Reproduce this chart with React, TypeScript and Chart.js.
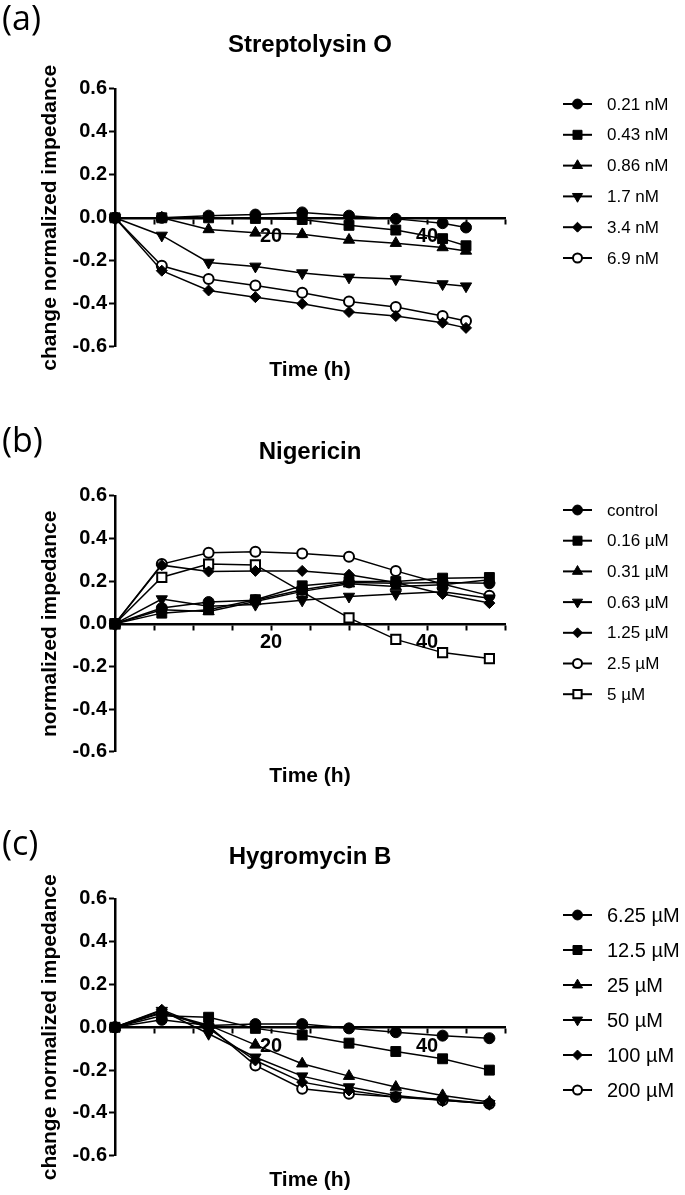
import React, { useEffect, useRef } from 'react';
import { Chart, registerables } from 'chart.js';

Chart.register(...registerables);
Chart.defaults.color = '#000';
Chart.defaults.font.family = "'Liberation Sans', Arial, sans-serif";

// ---------- data ----------
const TIMES_A = [0, 6, 12, 18, 24, 30, 36, 42, 45];
const TIMES_BC = [0, 6, 12, 18, 24, 30, 36, 42, 48];

const SLO_LABELS = ['0.21 nM', '0.43 nM', '0.86 nM', '1.7 nM', '3.4 nM', '6.9 nM'];
const SLO_021 = [0, 0.0, 0.01, 0.015, 0.025, 0.01, -0.005, -0.025, -0.045];
const SLO_043 = [0, 0.0, 0.0, -0.003, -0.008, -0.035, -0.057, -0.097, -0.13];
const SLO_086 = [0, 0.0, -0.054, -0.07, -0.077, -0.103, -0.118, -0.138, -0.154];
const SLO_17 = [0, -0.082, -0.208, -0.226, -0.257, -0.277, -0.285, -0.308, -0.318];
const SLO_34 = [0, -0.246, -0.338, -0.369, -0.4, -0.438, -0.457, -0.488, -0.512];
const SLO_69 = [0, -0.223, -0.285, -0.315, -0.349, -0.389, -0.415, -0.457, -0.48];

const NIG_LABELS = ['control', '0.16 µM', '0.31 µM', '0.63 µM', '1.25 µM', '2.5 µM', '5 µM'];
const NIG_CTRL = [0, 0.074, 0.102, 0.11, 0.16, 0.194, 0.19, 0.194, 0.19];
const NIG_016 = [0, 0.05, 0.066, 0.113, 0.178, 0.198, 0.198, 0.214, 0.217];
const NIG_031 = [0, 0.066, 0.058, 0.105, 0.152, 0.188, 0.175, 0.183, 0.206];
const NIG_063 = [0, 0.116, 0.082, 0.09, 0.11, 0.128, 0.14, 0.15, 0.12];
const NIG_125 = [0, 0.275, 0.245, 0.248, 0.248, 0.23, 0.194, 0.14, 0.097];
const NIG_25 = [0, 0.28, 0.333, 0.338, 0.33, 0.314, 0.248, 0.187, 0.132];
const NIG_5 = [0, 0.218, 0.28, 0.276, 0.15, 0.028, -0.073, -0.135, -0.163];

const HYG_LABELS = ['6.25 µM', '12.5 µM', '25 µM', '50 µM', '100 µM', '200 µM'];
const HYG_625 = [0, 0.035, 0.008, 0.015, 0.015, -0.005, -0.023, -0.039, -0.051];
const HYG_125 = [0, 0.054, 0.047, -0.005, -0.036, -0.074, -0.113, -0.147, -0.2];
const HYG_25 = [0, 0.07, 0.01, -0.082, -0.17, -0.228, -0.279, -0.318, -0.349];
const HYG_50 = [0, 0.078, -0.03, -0.14, -0.228, -0.279, -0.318, -0.341, -0.357];
const HYG_100 = [0, 0.082, -0.005, -0.155, -0.256, -0.295, -0.326, -0.336, -0.357];
const HYG_200 = [0, 0.067, 0.005, -0.178, -0.287, -0.31, -0.326, -0.341, -0.357];

const X_LABELS = [20, 40];
const Y_TICKS = [-0.6, -0.4, -0.2, 0, 0.2, 0.4, 0.6];

// ---------- styles ----------
const FONT = "'Liberation Sans', Arial, sans-serif";
const MARKERS = ['fcircle', 'fsquare', 'ftri', 'ftriDown', 'fdiamond', 'ocircle', 'osquare'];

function markerStyle(key: string) {
  switch (key) {
    case 'fcircle': return { pointStyle: 'circle', pointRadius: 5.5, pointBackgroundColor: '#000', pointBorderWidth: 1, pointRotation: 0 };
    case 'fsquare': return { pointStyle: 'rect', pointRadius: 7, pointBackgroundColor: '#000', pointBorderWidth: 1, pointRotation: 0 };
    case 'ftri': return { pointStyle: 'triangle', pointRadius: 6.5, pointBackgroundColor: '#000', pointBorderWidth: 1, pointRotation: 0 };
    case 'ftriDown': return { pointStyle: 'triangle', pointRadius: 6.5, pointBackgroundColor: '#000', pointBorderWidth: 1, pointRotation: 180 };
    case 'fdiamond': return { pointStyle: 'rectRot', pointRadius: 5.5, pointBackgroundColor: '#000', pointBorderWidth: 1, pointRotation: 0 };
    case 'ocircle': return { pointStyle: 'circle', pointRadius: 5, pointBackgroundColor: '#fff', pointBorderWidth: 2, pointRotation: 0 };
    default: return { pointStyle: 'rect', pointRadius: 6.5, pointBackgroundColor: '#fff', pointBorderWidth: 2, pointRotation: 0 };
  }
}

function drawMarker(ctx: CanvasRenderingContext2D, key: string, x: number, y: number, s: number) {
  ctx.save();
  ctx.strokeStyle = '#000';
  ctx.fillStyle = key.startsWith('o') ? '#fff' : '#000';
  ctx.lineWidth = key.startsWith('o') ? 2 : 1;
  ctx.beginPath();
  if (key === 'fcircle' || key === 'ocircle') {
    ctx.arc(x, y, (key === 'fcircle' ? 5.5 : 5) * s, 0, Math.PI * 2);
  } else if (key === 'fsquare' || key === 'osquare') {
    const h = (key === 'fsquare' ? 5 : 4.6) * s;
    ctx.rect(x - h, y - h, 2 * h, 2 * h);
  } else if (key === 'ftri' || key === 'ftriDown') {
    const r = 6.5 * s;
    const d = key === 'ftri' ? 1 : -1;
    ctx.moveTo(x, y - d * r);
    ctx.lineTo(x + r * Math.sin(Math.PI * 2 / 3), y + d * r * 0.5);
    ctx.lineTo(x - r * Math.sin(Math.PI * 2 / 3), y + d * r * 0.5);
    ctx.closePath();
  } else {
    const r = 5.5 * s;
    ctx.moveTo(x, y - r);
    ctx.lineTo(x + r, y);
    ctx.lineTo(x, y + r);
    ctx.lineTo(x - r, y);
    ctx.closePath();
  }
  ctx.fill();
  ctx.stroke();
  ctx.restore();
}

type PanelCfg = {
  top: number;
  height: number;
  letter: string;
  letterY: number;
  title: string;
  yTitle: string;
  titlePad: { top: number; bottom: number };
  subPad: { top: number; bottom: number };
  times: number[];
  labels: string[];
  series: number[][];
  legendY0: number;
  legendStep: number;
  legendFont: number;
};

const PANELS: PanelCfg[] = [
  {
    top: 0, height: 395, letter: '(a)', letterY: 20, title: 'Streptolysin O', yTitle: 'change normalized impedance',
    titlePad: { top: 31, bottom: 29 }, subPad: { top: 11, bottom: 12 }, times: TIMES_A, labels: SLO_LABELS,
    series: [SLO_021, SLO_043, SLO_086, SLO_17, SLO_34, SLO_69], legendY0: 104, legendStep: 30.8, legendFont: 17,
  },
  {
    top: 395, height: 395, letter: '(b)', letterY: 47, title: 'Nigericin', yTitle: 'normalized impedance',
    titlePad: { top: 43, bottom: 29 }, subPad: { top: 12, bottom: 1 }, times: TIMES_BC, labels: NIG_LABELS,
    series: [NIG_CTRL, NIG_016, NIG_031, NIG_063, NIG_125, NIG_25, NIG_5], legendY0: 115, legendStep: 30.7, legendFont: 17,
  },
  {
    top: 790, height: 405, letter: '(c)', letterY: 55, title: 'Hygromycin B', yTitle: 'change normalized impedance',
    titlePad: { top: 53, bottom: 27 }, subPad: { top: 12, bottom: 2 }, times: TIMES_BC, labels: HYG_LABELS,
    series: [HYG_625, HYG_125, HYG_25, HYG_50, HYG_100, HYG_200], legendY0: 125, legendStep: 35, legendFont: 20,
  },
];

function Panel({ cfg }: { cfg: PanelCfg }) {
  const ref = useRef<HTMLCanvasElement | null>(null);
  useEffect(() => {
    if (!ref.current) return;
    const datasets = cfg.series.map((vals, i) => ({
      label: cfg.labels[i],
      data: vals.map((v, j) => ({ x: cfg.times[j], y: v })),
      borderColor: '#000',
      borderWidth: 1.5,
      pointBorderColor: '#000',
      clip: false as const,
      tension: 0,
      ...markerStyle(MARKERS[i]),
    }));
    const overlay = {
      id: 'overlay' + cfg.letter,
      afterDraw(chart: any) {
        const ctx = chart.ctx as CanvasRenderingContext2D;
        ctx.save();
        chart.data.datasets.forEach((ds: any, i: number) => {
          const y = cfg.legendY0 + i * cfg.legendStep;
          ctx.strokeStyle = '#000';
          ctx.lineWidth = 2;
          ctx.beginPath();
          ctx.moveTo(563, y);
          ctx.lineTo(592, y);
          ctx.stroke();
          drawMarker(ctx, MARKERS[i], 577.5, y, 0.9);
          ctx.fillStyle = '#000';
          ctx.font = `${cfg.legendFont}px ${FONT}`;
          ctx.textAlign = 'left';
          ctx.textBaseline = 'middle';
          ctx.fillText(ds.label, 607, y + 1);
        });
        ctx.font = "34px 'Open Sans', 'Noto Sans', sans-serif";
        ctx.textAlign = 'left';
        ctx.textBaseline = 'middle';
        ctx.fillStyle = '#000';
        ctx.fillText(cfg.letter, 2, cfg.letterY);
        ctx.restore();
      },
    };
    const chart = new Chart(ref.current, {
      type: 'line',
      data: { datasets },
      plugins: [overlay],
      options: {
        animation: false,
        responsive: false,
        events: [],
        layout: { padding: { left: 35, right: 180, top: 0, bottom: 0 } },
        plugins: {
          legend: { display: false },
          tooltip: { enabled: false },
          title: {
            display: true, text: cfg.title, fullSize: false, color: '#000',
            font: { family: FONT, size: 24, weight: 'bold' }, padding: cfg.titlePad,
          },
          subtitle: {
            display: true, text: 'Time (h)', position: 'bottom', fullSize: false, color: '#000',
            font: { family: FONT, size: 21, weight: 'bold' }, padding: cfg.subPad,
          },
        },
        scales: {
          x: {
            type: 'linear',
            position: { y: 0 },
            min: 0,
            max: 50,
            ticks: {
              stepSize: 5,
              autoSkip: false,
              maxRotation: 0,
              padding: 2,
              color: '#000',
              font: { family: FONT, size: 20, weight: 'bold' },
              callback: (v: any) => (X_LABELS.includes(Number(v)) ? String(v) : ''),
            },
            grid: { drawOnChartArea: false, drawTicks: true, tickLength: 5, tickWidth: 2, tickColor: '#000' },
            border: { display: true, color: '#000', width: 2.5 },
          },
          y: {
            type: 'linear',
            position: 'left',
            min: Y_TICKS[0],
            max: Y_TICKS[Y_TICKS.length - 1],
            ticks: {
              stepSize: 0.2,
              padding: 2,
              color: '#000',
              font: { family: FONT, size: 20, weight: 'bold' },
              callback: (v: any) => (Math.abs(Number(v)) < 1e-9 ? '0.0' : Number(v).toFixed(1)),
            },
            grid: { drawOnChartArea: false, drawTicks: true, tickLength: 6, tickWidth: 2, tickColor: '#000' },
            border: { display: true, color: '#000', width: 2.5 },
            title: {
              display: true, text: cfg.yTitle, color: '#000',
              font: { family: FONT, size: 21, weight: 'bold' }, padding: { top: 3, bottom: 0 },
            },
            afterFit: (scale: any) => { scale.width = 80; },
          },
        },
      } as any,
    });
    return () => chart.destroy();
  }, [cfg]);
  return (
    <div style={{ position: 'absolute', left: 0, top: cfg.top, width: 685, height: cfg.height }}>
      <canvas ref={ref} width={685} height={cfg.height} style={{ display: 'block', width: 685, height: cfg.height }} />
    </div>
  );
}

export default function App() {
  return (
    <div style={{ position: 'absolute', left: 0, top: 0, width: 685, height: 1195, background: '#fff' }}>
      {PANELS.map((p) => (
        <Panel key={p.letter} cfg={p} />
      ))}
    </div>
  );
}
